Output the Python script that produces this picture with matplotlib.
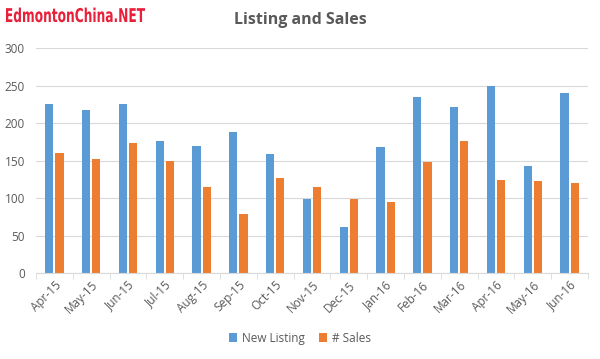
import matplotlib
matplotlib.use("Agg")
import matplotlib.pyplot as plt
import numpy as np
from matplotlib.ticker import FixedLocator
from matplotlib.textpath import TextPath
from matplotlib.font_manager import FontProperties
from matplotlib.patches import PathPatch
from matplotlib.transforms import Affine2D, IdentityTransform

months = ["Apr-15","May-15","Jun-15","Jul-15","Aug-15","Sep-15","Oct-15","Nov-15",
          "Dec-15","Jan-16","Feb-16","Mar-16","Apr-16","May-16","Jun-16"]
new_listing = [226,218,226,176,170,188,159,99,61,168,235,221,250,143,240]
sales = [160,152,173,150,115,79,127,115,99,95,148,176,124,123,120]

plt.rcParams['font.family'] = ['Open Sans', 'DejaVu Sans']
fig = plt.figure(figsize=(6, 3.59), dpi=100)
ax = fig.add_axes([0.06, 0.2396, 0.92, 0.6264])

x = np.arange(len(months))
w = 0.225
gap = 0.055
ax.bar(x - (w+gap)/2, new_listing, w, color="#5B9BD5", label="New Listing")
ax.bar(x + (w+gap)/2, sales, w, color="#ED7D31", label="# Sales")

ax.set_xlim(-0.5, len(months)-0.5)
ax.set_ylim(0, 300)
ax.set_yticks(range(0, 301, 50))
ax.yaxis.grid(True, color="#D9D9D9", linewidth=0.8)
ax.set_axisbelow(True)
for s in ["top", "right", "left"]:
    ax.spines[s].set_visible(False)
ax.spines["bottom"].set_color("#D9D9D9")
ax.tick_params(axis="y", length=0, labelsize=8.5, labelcolor="#595959", pad=8)
ax.set_xticks(x)
ax.set_xticklabels(months, rotation=45, ha="right", rotation_mode="anchor",
                   fontsize=8.5, color="#595959")
ax.tick_params(axis="x", length=0, pad=4)
ax.xaxis.set_minor_locator(FixedLocator(np.arange(-0.5, len(months), 1)))
ax.tick_params(axis="x", which="minor", length=4, color="#D9D9D9")

fig.text(0.5, 0.945, "Listing and Sales", ha="center", va="center",
         fontsize=11.5, color="#595959", fontweight="bold")

# condensed watermark drawn as a scaled text path (in pixels)
wm = "EdmontonChina.NET"
tp = TextPath((0, 0), wm, size=19, prop=FontProperties(family="DejaVu Sans", weight="bold"))
ext = tp.get_extents()
sx = 139.0 / ext.width
tr = Affine2D().translate(-ext.x0, 0).scale(sx, 1.0).translate(6, 359 - 22)
patch = PathPatch(tr.transform_path(tp), facecolor="#E8203A", edgecolor="none",
                  transform=IdentityTransform())
fig.patches.append(patch)
patch.set_figure(fig)

fig.legend(loc="center", bbox_to_anchor=(0.5, 0.058), ncol=2, frameon=False,
           fontsize=8.5, handlelength=0.7, handleheight=0.7, columnspacing=1.2,
           handletextpad=0.4, labelcolor="#595959")

fig.savefig("out.png", dpi=100)
